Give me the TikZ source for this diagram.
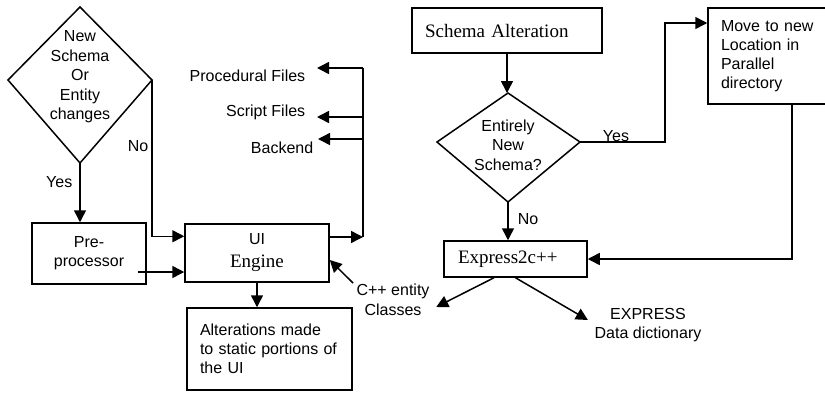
\documentclass[tikz,border=0pt]{standalone}
\usepackage{fontspec}
\setmainfont{Liberation Serif}
\setsansfont{Liberation Sans}
\usetikzlibrary{arrows.meta}
\begin{document}
\begin{tikzpicture}[x=1pt,y=-1pt,line width=1.5pt,
  txt/.style={font=\sffamily\fontsize{16}{19.5}\selectfont,inner sep=0pt},
  serif/.style={font=\rmfamily\fontsize{19}{19}\selectfont},
  box/.style={draw,line width=1.5pt,inner sep=0pt,font=\sffamily\fontsize{16}{19}\selectfont},
  arr/.style={-{Triangle[length=12pt,width=12pt]}}]
\fill[white] (0,0) rectangle (825,392);
\useasboundingbox (0,0) rectangle (825,392);

% ---------- left flow: UI generation ----------
\coordinate (d1t) at (80,7);
\coordinate (d1l) at (8,80);
\coordinate (d1r) at (152,80);
\coordinate (d1b) at (80,163);
\draw (d1t) -- (d1r) -- (d1b) -- (d1l) -- cycle;
\node[txt,align=center] (d1) at (80,77) {New\\Schema\\Or\\Entity\\changes};

\node[box,minimum width=114pt,minimum height=61pt,align=center] (pre) at (89,253.5) {Pre-\\processor};
\node[box,minimum width=144pt,minimum height=58pt,align=center] (ui) at (257,253)
  {UI\\[4pt]{\rmfamily\fontsize{19}{19}\selectfont Engine}};
\node[box,text width=139pt,inner xsep=13pt,minimum height=82pt,align=left] (alt) at (269.5,349)
  {Alterations made\\to static portions of\\the UI};

\draw[arr] (d1b) -- (d1b |- pre.north);
\node[txt,anchor=east] (yes1) at (73,182) {Yes};
\draw[arr] (d1r) |- ([yshift=-13pt]ui.north west);
\node[txt,anchor=east] (no1) at (149,146) {No};

\coordinate (pout) at (138,272);
\draw[arr] (pout) -- (pout -| ui.west);

% output bus on the right of the engine
\node[txt,anchor=east] (proc) at (306,76) {Procedural Files};
\node[txt,anchor=east] (scr) at (306,112) {Script Files};
\node[txt,anchor=east] (back) at (314,148) {Backend};
\coordinate (b0) at (363,237);
\coordinate (b1) at (363,68);
\coordinate (b2) at (363,117);
\coordinate (b3) at (363,139);
\draw[arr] (ui.east |- b0) -- (b0);
\draw (b0) -- (b1);
\draw[arr] (b1) -- ([xshift=11pt]proc.east |- b1);
\draw[arr] (b2) -- ([xshift=11pt]scr.east |- b2);
\draw[arr] (b3) -- ([xshift=4pt]back.east |- b3);

\draw[arr] (ui.south) -- (ui.south |- alt.north);

\node[txt,align=center] (cpp) at (393,300) {C++ entity\\Classes};
\coordinate (cppa) at (353,283);
\draw[arr] (cppa) -- ([yshift=-7pt]ui.east);

% ---------- right flow: schema alteration ----------
\node[box,serif,text width=164pt,inner xsep=13pt,minimum height=45pt,align=left] (sa) at (507,30.5) {Schema Alteration};

\coordinate (d2t) at (508,93);
\coordinate (d2l) at (437,142);
\coordinate (d2r) at (580,142);
\coordinate (d2b) at (508,202);
\draw (d2t) -- (d2r) -- (d2b) -- (d2l) -- cycle;
\node[txt,align=center] (d2) at (508,145) {Entirely\\New\\Schema?};
\draw[arr] (sa.south) -- (sa.south |- d2t);

\node[box,text width=100pt,inner xsep=13pt,minimum height=96pt,align=left] (mv) at (771,56)
  {Move to new\\Location in\\Parallel\\directory};
\coordinate (yesbend) at (665,23);
\draw[arr] (d2r) -| (yesbend) -- (yesbend -| mv.west);
\node[txt,anchor=base] (yes2) at (616,141) {Yes};

\node[box,serif,text width=115pt,inner xsep=14pt,minimum height=36pt,align=left] (ex) at (515.5,259) {Express2c++};
\draw[arr] (d2b) -- (d2b |- ex.north);
\node[txt,anchor=west] (no2) at (517,219) {No};
\draw[arr] ([xshift=21pt]mv.south) |- (ex.east);

\node[txt,align=center] (exd) at (648,325) {EXPRESS\\Data dictionary};
\draw[arr] ([xshift=-21.5pt]ex.south) -- ([shift={(6,7)}]cpp.east);
\draw[arr] (ex.south) -- ([shift={(-6,-5)}]exd.west);
\end{tikzpicture}
\end{document}
